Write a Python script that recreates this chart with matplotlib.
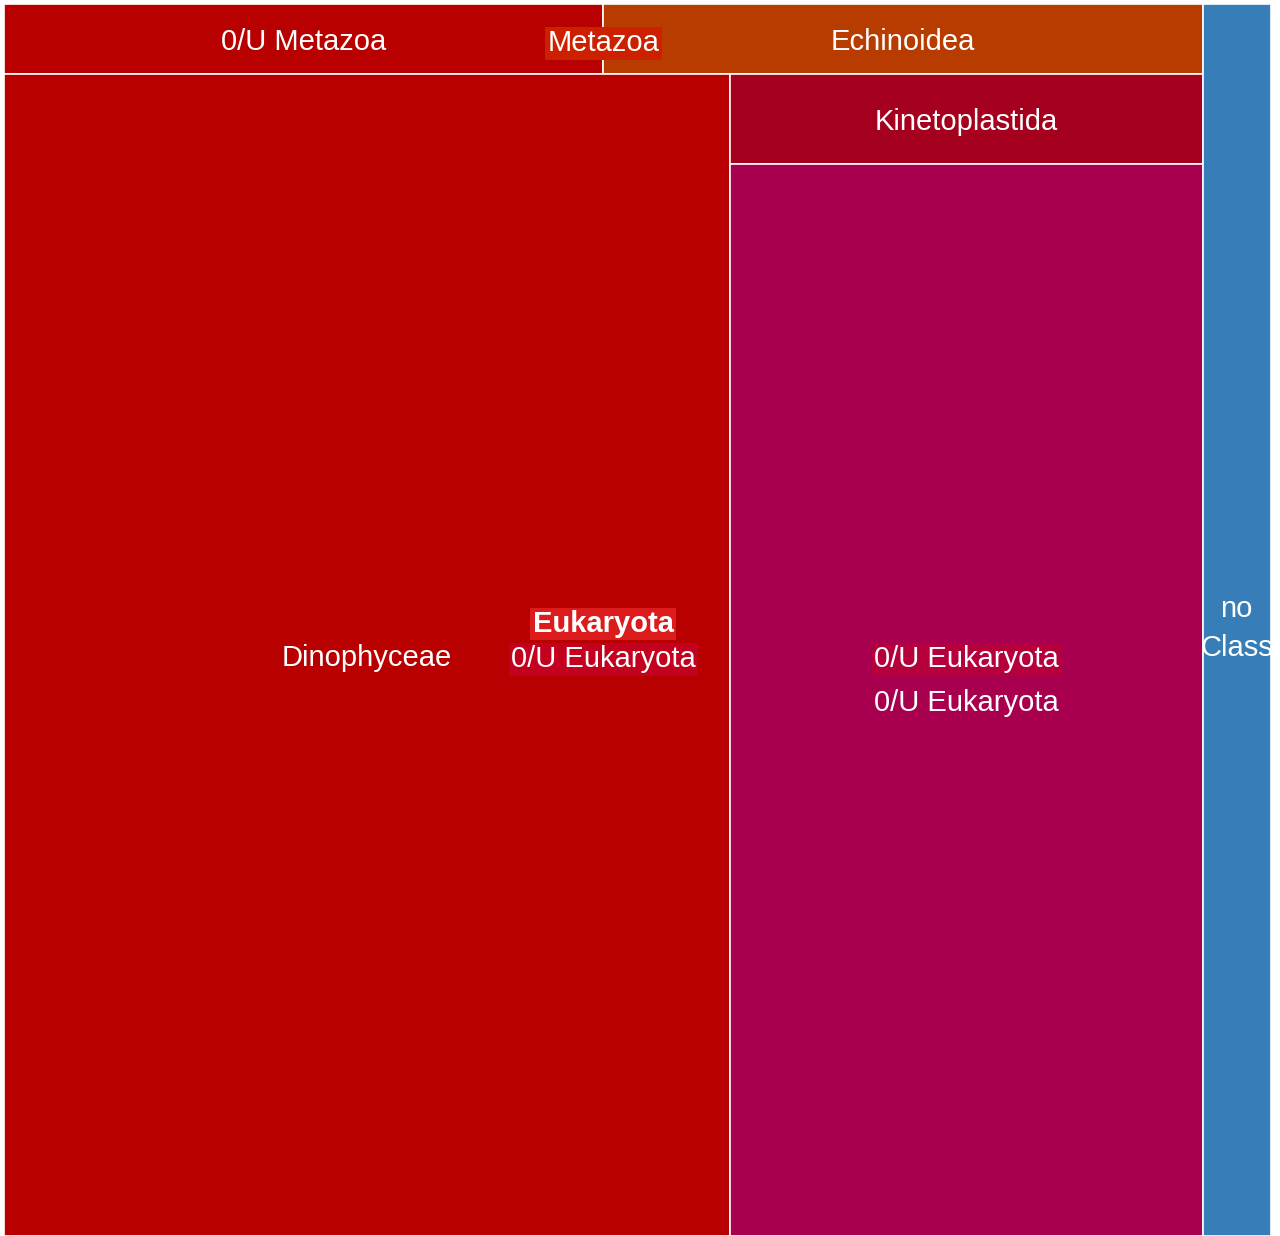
import matplotlib.pyplot as plt
from matplotlib.patches import Rectangle

# treemap nodes (plotly-style ids / parents), values only on leaves
ids = ["euk", "euk/meta", "euk/meta/ou", "euk/meta/echi", "euk/ou", "euk/ou/dino",
       "euk/ou/ou", "euk/ou/ou/kine", "euk/ou/ou/ou", "nocls"]
labels = ["Eukaryota", "Metazoa", "0/U Metazoa", "Echinoidea", "0/U Eukaryota", "Dinophyceae",
          "0/U Eukaryota", "Kinetoplastida", "0/U Eukaryota", "no Class"]
parents = ["", "euk", "euk/meta", "euk/meta", "euk", "euk/ou",
           "euk/ou", "euk/ou/ou", "euk/ou/ou", ""]
values = [0, 0, 1, 1, 0, 20, 0, 1, 12, 2]
colors = ["#b80000", "#b81e00", "#b80000", "#b83c00", "#b4000f", "#b80000",
          "#a8003a", "#a5001e", "#a8004f", "#377eb8"]
label_bg = ["#dc1c1c", "#cc2000", None, None, "#c3001e", None,
            "#b5003c", None, None, None]

plt.rcParams['font.family'] = ['Liberation Sans', 'DejaVu Sans']

children = {k: [] for k in [""] + ids}
for i, p in zip(ids, parents):
    children[p].append(i)

def total(node):
    k = ids.index(node)
    if len(children[node]) == 0:
        return values[k]
    return sum(total(c) for c in children[node])

rects = {}
def layout(node, x, y, w, h):
    kids = children[node]
    s = sum(total(c) for c in kids)
    pos = 0
    for c in kids:
        frac = total(c) / s
        if w >= h:
            rects[c] = (x + pos * w, y, frac * w, h)
        else:
            rects[c] = (x, y + pos * h, w, frac * h)
        pos += frac
        layout(c, *rects[c])

W, H = 1267, 1232
layout("", 0, 0, W, H)

fig = plt.figure(figsize=(12.8, 12.36), dpi=100)
ax = fig.add_axes([4 / 1280, 0, W / 1280, H / 1236])
ax.set_xlim(0, W)
ax.set_ylim(H, 0)
ax.axis('off')

for k, node in enumerate(ids):
    x, y, w, h = rects[node]
    if len(children[node]) == 0:
        ax.add_patch(Rectangle((x, y), w, h, facecolor=colors[k], edgecolor='white', lw=1.2, zorder=1))
        txt = labels[k]
        if w < 150:
            txt = txt.replace(" ", "\n")
        ax.text(x + w / 2, y + h / 2, txt, color='white', fontsize=21, ha='center',
                va='center_baseline', linespacing=1.5, zorder=2)

for k, node in enumerate(ids):
    x, y, w, h = rects[node]
    if label_bg[k] is not None:
        weight = 'bold' if parents[k] == "" else 'normal'
        ax.text(x + w / 2, y + h / 2 + 1, labels[k], color='white', fontsize=21, ha='center',
                va='center_baseline', fontweight=weight, zorder=3,
                bbox=dict(boxstyle='square,pad=0.08', fc=label_bg[k], ec='none'))

plt.savefig("out.png", dpi=100, facecolor='white')
